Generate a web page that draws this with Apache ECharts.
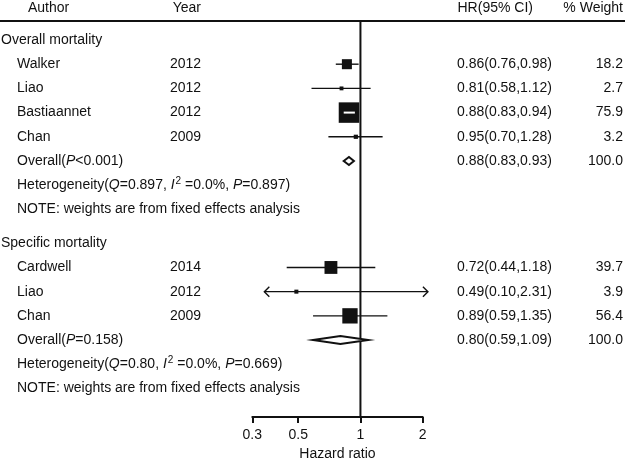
<!DOCTYPE html>
<html>
<head>
<meta charset="utf-8">
<script src="https://cdn.jsdelivr.net/npm/echarts@6/dist/echarts.min.js"></script>
<style>
html,body{margin:0;padding:0;background:#fff;}
#chart{width:625px;height:461px;}
</style>
</head>
<body>
<div id="chart"></div>
<script>
// ---------- DATA ----------
const groupNames = ['Overall mortality', 'Specific mortality'];
const studyGroup = [0, 0, 0, 0, 1, 1, 1];
const authors = ['Walker', 'Liao', 'Bastiaannet', 'Chan', 'Cardwell', 'Liao', 'Chan'];
const years = ['2012', '2012', '2012', '2009', '2014', '2012', '2009'];
const hr = [0.86, 0.81, 0.88, 0.95, 0.72, 0.49, 0.89];
const ciLow = [0.76, 0.58, 0.83, 0.70, 0.44, 0.10, 0.59];
const ciHigh = [0.98, 1.12, 0.94, 1.28, 1.18, 2.31, 1.35];
const weights = [18.2, 2.7, 75.9, 3.2, 39.7, 3.9, 56.4];
const pooledHR = [0.88, 0.80];
const pooledLow = [0.83, 0.59];
const pooledHigh = [0.93, 1.09];
const pooledWeight = [100.0, 100.0];
const pooledP = ['<0.001', '=0.158'];
const hetQ = ['0.897', '0.80'];
const hetI2 = ['0.0%', '0.0%'];
const hetP = ['0.897', '0.669'];
const noteText = 'NOTE: weights are from fixed effects analysis';
const xTicks = [0.3, 0.5, 1, 2];
const xAxisName = 'Hazard ratio';
const headers = ['Author', 'Year', 'HR(95% CI)', '% Weight'];

// ---------- LAYOUT / STYLE ----------
const FAMILY = '"Liberation Sans", Arial, sans-serif';
const FONT = '14px ' + FAMILY;
const INK = '#111';
const arrowLo = 0.343, arrowHi = 2.12;   // display clip limits for CIs
const boxScale = [2.35, 2.04];
const diamondHalf = 4;
const groupGap = 0.4;
const yMin = -0.785, yMax = 15.58;
const colAuthor = 17, colYear = 170, colHR = 457, colW = 623, colGroup = 1;

// build rows
const rows = [];
let r = 0;
groupNames.forEach((gname, g) => {
  rows.push({kind: 'group', y: r++, g});
  studyGroup.forEach((sg, i) => { if (sg === g) rows.push({kind: 'study', y: r++, i, g}); });
  rows.push({kind: 'pooled', y: r++, g});
  rows.push({kind: 'het', y: r++, g});
  rows.push({kind: 'note', y: r++, g});
  r += groupGap;
});

function fmtHR(h, l, u) { return h.toFixed(2) + '(' + l.toFixed(2) + ',' + u.toFixed(2) + ')'; }
function txt(x, y, text, align, rich) {
  const st = {x, y, text, fill: INK, font: FONT, align: align || 'left', verticalAlign: 'middle'};
  if (rich) st.rich = rich;
  return {type: 'text', style: st, silent: true};
}
const richIt = {
  i: {fontStyle: 'italic', fontSize: 14, fontFamily: FAMILY, fill: INK},
  sup: {fontSize: 10, fontFamily: FAMILY, fill: INK, verticalAlign: 'bottom', padding: [0, 0, 8, 1]}
};

function renderRow(params, api) {
  const row = rows[params.dataIndex];
  const yPix = api.coord([1, row.y])[1];
  const kids = [];
  if (row.kind === 'group') {
    kids.push(txt(colGroup, yPix, groupNames[row.g]));
  } else if (row.kind === 'study') {
    const i = row.i;
    const lo = Math.max(ciLow[i], arrowLo), hi = Math.min(ciHigh[i], arrowHi);
    const xl = api.coord([lo, row.y])[0], xh = api.coord([hi, row.y])[0];
    const xc = api.coord([hr[i], row.y])[0];
    kids.push({type: 'line', shape: {x1: xl, y1: yPix, x2: xh, y2: yPix}, style: {stroke: INK, lineWidth: 1.4}});
    if (ciLow[i] < arrowLo) kids.push({type: 'polyline', shape: {points: [[xl + 5, yPix - 5], [xl, yPix], [xl + 5, yPix + 5]]}, style: {stroke: INK, lineWidth: 1.4, fill: null}});
    if (ciHigh[i] > arrowHi) kids.push({type: 'polyline', shape: {points: [[xh - 5, yPix - 5], [xh, yPix], [xh - 5, yPix + 5]]}, style: {stroke: INK, lineWidth: 1.4, fill: null}});
    const s = boxScale[row.g] * Math.sqrt(weights[i]);
    kids.push({type: 'rect', shape: {x: xc - s / 2, y: yPix - s / 2, width: s, height: s}, style: {fill: INK}});
    if (xl > xc - s / 2 && xh < xc + s / 2) {
      kids.push({type: 'line', shape: {x1: xl, y1: yPix, x2: xh, y2: yPix}, style: {stroke: '#fff', lineWidth: 2}});
    }
    kids.push(txt(colAuthor, yPix, authors[i]));
    kids.push(txt(colYear, yPix, years[i]));
    kids.push(txt(colHR, yPix, fmtHR(hr[i], ciLow[i], ciHigh[i])));
    kids.push(txt(colW, yPix, weights[i].toFixed(1), 'right'));
  } else if (row.kind === 'pooled') {
    const g = row.g;
    const xl = api.coord([pooledLow[g], row.y])[0], xh = api.coord([pooledHigh[g], row.y])[0];
    const xc = api.coord([pooledHR[g], row.y])[0];
    kids.push({type: 'polygon', shape: {points: [[xl, yPix], [xc, yPix - diamondHalf], [xh, yPix], [xc, yPix + diamondHalf]]}, style: {fill: '#fff', stroke: INK, lineWidth: 2}});
    kids.push(txt(colAuthor, yPix, 'Overall({i|P}' + pooledP[g] + ')', 'left', richIt));
    kids.push(txt(colHR, yPix, fmtHR(pooledHR[g], pooledLow[g], pooledHigh[g])));
    kids.push(txt(colW, yPix, pooledWeight[g].toFixed(1), 'right'));
  } else if (row.kind === 'het') {
    const g = row.g;
    kids.push(txt(colAuthor, yPix, 'Heterogeneity({i|Q}=' + hetQ[g] + ', {i|I}{sup|2} =' + hetI2[g] + ', {i|P}=' + hetP[g] + ')', 'left', richIt));
  } else if (row.kind === 'note') {
    kids.push(txt(colAuthor, yPix, noteText));
  }
  return {type: 'group', children: kids};
}

const chart = echarts.init(document.getElementById('chart'), null, {renderer: 'canvas'});
chart.setOption({
  animation: false,
  backgroundColor: '#fff',
  grid: {left: 252.3, right: 202.3, top: 21, bottom: 44, containLabel: false, outerBoundsMode: 'none'},
  xAxis: {
    type: 'log', logBase: 10, min: 0.3, max: 2, position: 'bottom',
    name: xAxisName, nameLocation: 'middle', nameGap: 29,
    nameTextStyle: {color: INK, fontSize: 14, fontFamily: FAMILY},
    axisLine: {show: true, onZero: false, lineStyle: {color: INK, width: 2}},
    axisTick: {show: true, length: 6, inside: false, lineStyle: {color: INK, width: 2}, customValues: xTicks},
    axisLabel: {color: INK, fontSize: 14, fontFamily: FAMILY, margin: 11, customValues: xTicks, formatter: v => String(+(+v).toFixed(2))},
    splitLine: {show: false}, minorTick: {show: false}
  },
  yAxis: {type: 'value', inverse: true, min: yMin, max: yMax, show: false},
  graphic: [
    {type: 'text', left: 28, top: 1.5, style: {text: headers[0], font: FONT, fill: INK}},
    {type: 'text', left: 172.7, top: 1.5, style: {text: headers[1], font: FONT, fill: INK}},
    {type: 'text', left: 457.5, top: 1.5, style: {text: headers[2], font: FONT, fill: INK}},
    {type: 'text', right: 2, top: 1.5, style: {text: headers[3], font: FONT, fill: INK}},
    {type: 'line', shape: {x1: 0, y1: 21, x2: 625, y2: 21}, style: {stroke: INK, lineWidth: 2}}
  ],
  series: [
    {
      type: 'custom', coordinateSystem: 'cartesian2d', silent: true, clip: false,
      renderItem: function (params, api) {
        const p1 = api.coord([1, yMin]), p2 = api.coord([1, yMax]);
        return {type: 'line', shape: {x1: p1[0], y1: p1[1], x2: p2[0], y2: p2[1]}, style: {stroke: INK, lineWidth: 2}};
      },
      data: [[1, 0]]
    },
    {
      type: 'custom', coordinateSystem: 'cartesian2d', silent: true, clip: false,
      renderItem: renderRow,
      encode: {x: 0, y: 1},
      data: rows.map(rw => [1, rw.y])
    }
  ]
});
</script>
</body>
</html>
